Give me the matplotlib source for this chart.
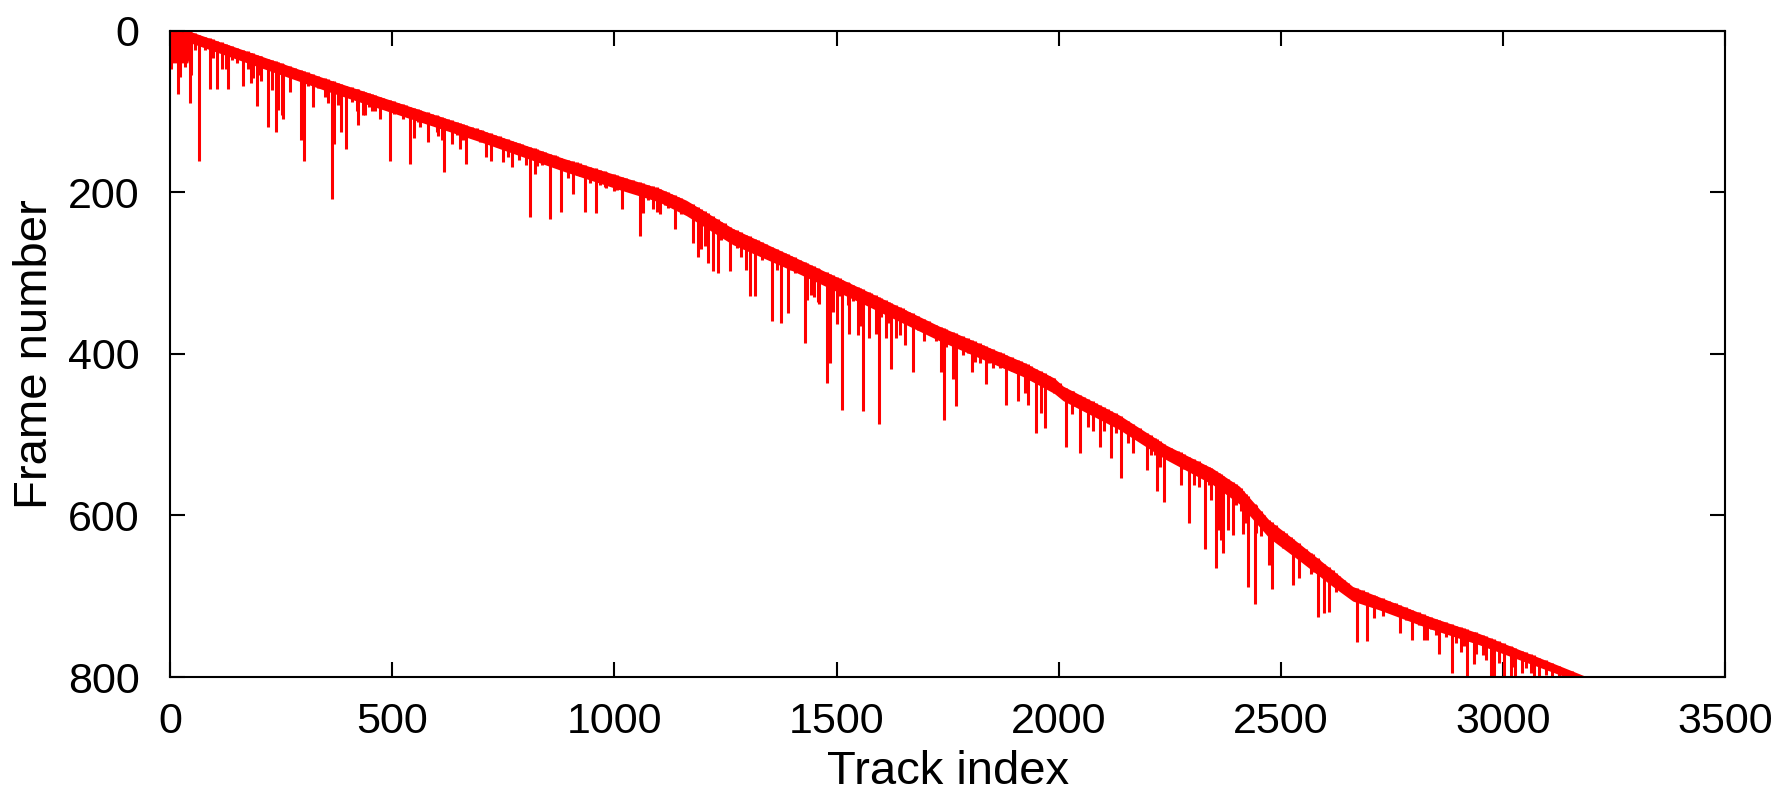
import numpy as np
import matplotlib
matplotlib.use('Agg')
from matplotlib import pyplot as plt

plt.rcParams['font.family'] = ['Liberation Sans', 'DejaVu Sans']

# start frame of the tracks (top edge of the red band)
curve_idx = [0, 40, 50, 364, 700, 885, 1012, 1100, 1162, 1267, 1400, 1559, 1732,
             1919, 1990, 2010, 2137, 2242, 2347, 2407, 2474, 2542, 2617, 2662,
             2722, 2834, 2946, 3190]
curve_frame = [0, 0, 2, 62, 123, 158, 180, 195, 210, 245, 279, 320, 366,
               410, 430, 440, 476, 513, 542, 564, 606, 635, 668, 688,
               701, 725, 746, 800]
# length of the dense short tracks under the curve
band_depth = [40, 40, 14, 15, 15, 16, 17, 17, 19, 20, 18, 18, 18,
              18, 19, 18, 18, 18, 20, 22, 22, 21, 20, 18,
              16, 15, 14, 10]

# longer tracks: index and last frame
spike_idx = [2, 17, 22, 45, 47, 66, 90, 105, 126, 130, 150, 165, 182, 195, 204,
             221, 238, 255, 270, 295, 302, 322, 355, 365, 369, 385, 397, 424,
             439, 454, 472, 495, 505, 524, 541, 549, 562, 581, 603, 617, 635,
             652, 667, 679, 697, 712, 722,
             750, 769, 786, 802, 811, 821, 836, 856, 871, 881, 906, 922, 934,
             958, 982, 1000, 1018, 1043, 1057, 1065, 1087, 1102, 1121, 1136,
             1151, 1188, 1196, 1211, 1222, 1233, 1241, 1260, 1275, 1286, 1297,
             1305, 1316, 1333, 1355, 1366, 1375, 1391, 1406,
             1428, 1433, 1450, 1460, 1479, 1485, 1500, 1513, 1528, 1548, 1559,
             1573, 1588, 1595, 1611, 1623, 1633, 1642, 1655, 1672, 1698, 1724,
             1735, 1742, 1762, 1768, 1785, 1804, 1822, 1837, 1853, 1867, 1882,
             1894, 1908, 1924, 1930, 1949, 1961, 1969, 1990, 2017, 2030, 2048,
             2065, 2077, 2092, 2103, 2118, 2130,
             2141, 2167, 2199, 2207, 2221, 2238, 2275, 2294, 2305, 2315, 2330,
             2343, 2354, 2366, 2371, 2381, 2392, 2416, 2426, 2442, 2455, 2474,
             2480, 2505, 2528, 2540, 2568, 2583, 2598, 2608, 2625, 2651, 2671,
             2695, 2710, 2729, 2768, 2796, 2822,
             2829, 2857, 2885, 2906, 2920, 2935, 2954, 2973, 2980, 3002, 3017,
             3028, 3043, 3069, 3081, 3111]
spike_end = [47, 78, 58, 90, 55, 161, 72, 72, 47, 72, 40, 69, 65, 93, 62,
             119, 125, 109, 76, 135, 161, 94, 90, 208, 140, 125, 146, 117,
             104, 100, 109, 161, 103, 109, 165, 133, 119, 138, 130, 175, 140,
             146, 165, 133, 138, 156, 161,
             163, 169, 160, 166, 231, 178, 166, 233, 166, 225, 202, 180, 225,
             226, 195, 199, 221, 197, 254, 226, 221, 227, 219, 246,
             227, 280, 270, 288, 298, 300, 259, 298, 269, 280, 296,
             329, 329, 284, 360, 296, 362, 350, 300,
             387, 333, 330, 338, 436, 412, 363, 470, 375, 377, 471,
             381, 375, 487, 381, 419, 380, 377, 389, 423, 384, 384,
             423, 482, 431, 465, 402, 422, 412, 437, 418, 418, 463,
             421, 459, 449, 463, 498, 473, 492, 449, 515, 474, 523,
             490, 495, 515, 496, 529, 488,
             554, 523, 544, 525, 570, 583, 562, 609, 562, 565, 641,
             581, 665, 630, 647, 618, 624, 623, 688, 710, 626, 661,
             691, 640, 686, 678, 672, 726, 721, 719, 695, 693, 757,
             756, 727, 724, 746, 754, 754,
             754, 771, 795, 769, 800, 784, 773, 800, 800, 800, 800,
             800, 795, 800, 800, 800]

# shorter tracks forming the ragged fringe of the band
short_idx = [34, 56, 79, 97, 116, 139, 175, 187, 202, 229, 244, 251, 281, 311,
             334, 349, 379, 409, 420, 435, 448, 461, 480, 514, 532, 559, 589,
             600, 611, 626, 645, 660, 690, 701,
             705, 731, 742, 761, 776, 791, 825, 844, 866, 896, 915, 945, 967,
             979, 1005, 1027, 1076, 1095, 1113, 1128, 1143, 1177, 1203, 1248,
             1267, 1323, 1342, 1383, 1398, 1417,
             1443, 1458, 1492, 1507, 1526, 1537, 1553, 1578, 1601, 1618, 1649,
             1664, 1683, 1709, 1747, 1796, 1811, 1829, 1844, 1874, 1916, 1938,
             1979, 2002, 2032, 2058, 2084, 2110,
             2129, 2156, 2182, 2216, 2227, 2253, 2268, 2283, 2317, 2339, 2362,
             2399, 2410, 2422, 2444, 2463, 2489, 2512, 2523, 2557, 2572, 2587,
             2617, 2632, 2643, 2684, 2714, 2744, 2759, 2789, 2812,
             2755, 2781, 2811, 2838, 2849, 2871, 2894, 2913, 2939, 2961, 2991,
             3021, 3051, 3063, 3096, 3126, 3156]
short_end = [45, 24, 24, 34, 47, 36, 47, 59, 55, 73, 98, 104, 53, 69,
             71, 82, 92, 88, 100, 104, 94, 100, 96, 96, 106, 113, 117,
             125, 135, 123, 129, 135, 131, 135,
             135, 142, 140, 156, 150, 152, 168, 162, 166, 183, 179, 189, 191,
             193, 197, 195, 210, 224, 216, 212, 216, 263, 267, 255,
             259, 263, 278, 284, 296, 300,
             327, 336, 348, 329, 340, 335, 366, 342, 354, 362, 358,
             362, 371, 366, 391, 399, 410, 404, 412, 416, 424, 432,
             441, 449, 465, 470, 474, 482,
             498, 511, 507, 525, 540, 523, 535, 542, 552, 562, 618,
             587, 595, 610, 622, 616, 626, 634, 647, 651, 670, 659,
             684, 690, 684, 698, 709, 717, 721, 725, 733,
             719, 729, 736, 740, 748, 750, 758, 762, 771, 779, 783,
             787, 789, 795, 797, 800, 800]

fig, ax = plt.subplots(figsize=(17.79, 7.98), dpi=100)
fig.subplots_adjust(left=0.0956, right=0.9697, top=0.9617, bottom=0.1516)

curve = np.array(curve_frame, dtype=float)
ax.fill_between(curve_idx, curve, curve + np.array(band_depth), color='red', lw=0)
short_start = np.interp(short_idx, curve_idx, curve_frame)
ax.vlines(short_idx, short_start, short_end, colors='red', lw=2.2)
spike_start = np.interp(spike_idx, curve_idx, curve_frame)
ax.vlines(spike_idx, spike_start, spike_end, colors='red', lw=2.2)

ax.set_xlim(0, 3500)
ax.set_ylim(800, 0)
ax.set_xticks(np.arange(0, 3501, 500))
ax.set_yticks(np.arange(0, 801, 200))

for s in ax.spines.values():
    s.set_linewidth(1.5)
ax.tick_params(axis='both', direction='in', length=11, width=1.5,
               top=True, right=True, labelsize=31)
ax.tick_params(axis='x', pad=18)
ax.tick_params(axis='y', pad=22)

ax.set_xlabel('Track index', fontsize=34, labelpad=6)
ax.set_ylabel('Frame number', fontsize=34, labelpad=8)

fig.savefig('out.png', dpi=100)
